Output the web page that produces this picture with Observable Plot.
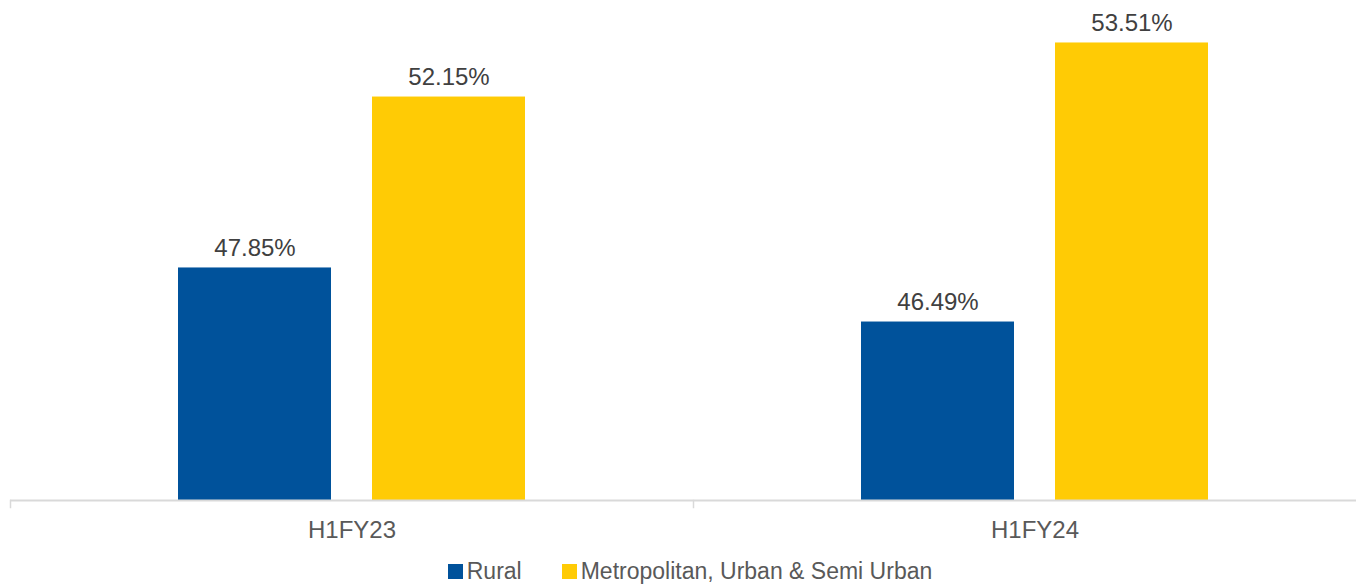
<!DOCTYPE html>
<html>
<head>
<meta charset="utf-8">
<script src="https://cdn.jsdelivr.net/npm/d3@7"></script>
<script src="https://cdn.jsdelivr.net/npm/@observablehq/plot@0.6"></script>
<style>
  html, body { margin: 0; padding: 0; background: #fff; overflow: hidden; }
  body { font-family: "Liberation Sans", Arial, sans-serif; }
  #chart svg { display: block; }
  #legend { display: flex; justify-content: center; align-items: center; margin-top: 6px; margin-left: 24px; font-size: 23px; line-height: 26px; color: #595959; }
  .item { display: flex; align-items: center; margin: 0 20px; }
  .sw { width: 15px; height: 15px; margin-right: 4px; display: inline-block; }
</style>
</head>
<body>
<div id="chart"></div>
<div id="legend"></div>
<script>
const categories = ["H1FY23", "H1FY24"];
const series = ["Rural", "Metropolitan, Urban & Semi Urban"];
const rural = [47.85, 46.49];
const metro = [52.15, 53.51];
const colors = ["#00529B", "#FFCB05"];
const yMin = 42;
const yMax = 54;

const data = [];
categories.forEach((c, i) => {
  data.push({category: c, series: series[0], value: rural[i]});
  data.push({category: c, series: series[1], value: metro[i]});
});

const chart = Plot.plot({
  width: 1356,
  height: 552,
  marginTop: 23,
  marginBottom: 52,
  marginLeft: 10,
  marginRight: 0,
  style: {fontFamily: "Liberation Sans, Arial, sans-serif", fontSize: "24px", color: "#595959", background: "#fff"},
  fx: {domain: categories, range: [10, 1376], padding: 0, label: null},
  x: {domain: series, paddingInner: 0.21, paddingOuter: 0.86, axis: null},
  y: {domain: [yMin, yMax], axis: null},
  color: {domain: series, range: colors},
  marks: [
    Plot.barY(data, {fx: "category", x: "series", y1: yMin, y2: "value", fill: "series"}),
    Plot.frame({anchor: "left", stroke: "#d9d9d9", strokeWidth: 1.5, insetTop: 477, insetBottom: -7}),
    Plot.ruleY([yMin], {stroke: "#d9d9d9", strokeWidth: 2}),
    Plot.text(data, {fx: "category", x: "series", y: "value", text: d => d.value.toFixed(2) + "%", lineAnchor: "bottom", dy: -12, fill: "#404040", fontSize: 24}),
    Plot.axisFx({anchor: "bottom", tickSize: 0, tickPadding: 20, label: null, fontSize: 24, color: "#595959"})
  ]
});
document.getElementById("chart").appendChild(chart);

const legend = document.getElementById("legend");
series.forEach((s, i) => {
  const item = document.createElement("div");
  item.className = "item";
  const sw = document.createElement("span");
  sw.className = "sw";
  sw.style.background = colors[i];
  item.appendChild(sw);
  const t = document.createElement("span");
  t.textContent = s;
  item.appendChild(t);
  legend.appendChild(item);
});
</script>
</body>
</html>
